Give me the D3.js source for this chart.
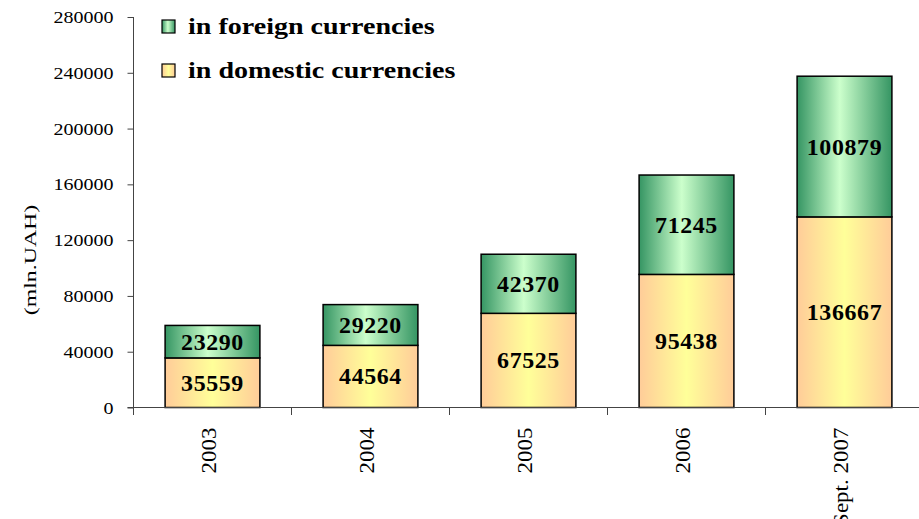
<!DOCTYPE html>
<html>
<head>
<meta charset="utf-8">
<script src="https://cdn.jsdelivr.net/npm/d3@7"></script>
<style>
  body { margin: 0; background: #fff; }
  svg text { font-family: "Liberation Serif", "Times New Roman", serif; fill: #000; }
</style>
</head>
<body>
<div id="chart"></div>
<script>
// Dades del gràfic
const categories = ["2003", "2004", "2005", "2006", "Sept. 2007"];
const domestic = [35559, 44564, 67525, 95438, 136667];
const foreign = [23290, 29220, 42370, 71245, 100879];
const yTicks = [0, 40000, 80000, 120000, 160000, 200000, 240000, 280000];
const seriesNames = ["in foreign currencies", "in domestic currencies"];

const width = 919, height = 519;
const x0 = 133.5, yBottom = 407.5, yTop = 17;

const svg = d3.select("#chart").append("svg")
    .attr("width", width)
    .attr("height", height);

// Gradients (clar al mig, fosc als costats)
const defs = svg.append("defs");
function gradient(id, edge, mid, midPos) {
    const g = defs.append("linearGradient").attr("id", id)
        .attr("x1", "0%").attr("y1", "0%").attr("x2", "100%").attr("y2", "0%");
    g.append("stop").attr("offset", "0%").attr("stop-color", edge);
    g.append("stop").attr("offset", midPos).attr("stop-color", mid);
    g.append("stop").attr("offset", "100%").attr("stop-color", edge);
}
gradient("grad-foreign", "#359563", "#ccffcc", "45%");
gradient("grad-domestic", "#ffcc99", "#ffff99", "50%");

// Escales
const x = d3.scaleBand()
    .domain(categories)
    .range([x0, x0 + 5 * 158])
    .paddingInner(0.4)
    .paddingOuter(0.2);

const y = d3.scaleLinear()
    .domain([0, 280000])
    .range([yBottom, yTop]);

// Dades apilades
const rows = categories.map((c, i) => ({ cat: c, domestic: domestic[i], foreign: foreign[i] }));
const stack = d3.stack().keys(["domestic", "foreign"])(rows);
const fills = { domestic: "url(#grad-domestic)", foreign: "url(#grad-foreign)" };

// Barres
const layers = svg.selectAll("g.layer")
    .data(stack)
    .enter().append("g")
    .attr("class", "layer");

layers.selectAll("rect")
    .data(d => d.map(p => ({ key: d.key, p })))
    .enter().append("rect")
    .attr("x", d => x(d.p.data.cat))
    .attr("y", d => y(d.p[1]))
    .attr("width", x.bandwidth())
    .attr("height", d => y(d.p[0]) - y(d.p[1]))
    .style("fill", d => fills[d.key])
    .style("stroke", "#000")
    .style("stroke-width", 1.5);

// Etiquetes de valor
layers.selectAll("text")
    .data(d => d.map(p => ({ key: d.key, p })))
    .enter().append("text")
    .attr("transform", d => `translate(${x(d.p.data.cat) + x.bandwidth() / 2},${(y(d.p[0]) + y(d.p[1])) / 2}) scale(1.04,1)`)
    .attr("dy", "0.35em")
    .style("text-anchor", "middle")
    .style("font-size", "23px")
    .style("font-weight", "bold")
    .style("letter-spacing", "0.6px")
    .text(d => d.p.data[d.key]);

// Eix Y
const yAxis = svg.append("g")
    .attr("transform", `translate(${x0},0)`)
    .call(d3.axisLeft(y).tickValues(yTicks).tickSize(6).tickSizeOuter(0).tickFormat(d => d));
yAxis.select(".domain").attr("d", `M0,${yTop}V${yBottom + 7.5}`);
yAxis.selectAll("line, path").style("stroke", "#444");
yAxis.selectAll("text")
    .attr("x", null)
    .attr("transform", "translate(-20,0) scale(1.25,1)")
    .attr("dy", "0.35em")
    .style("font-size", "16px");

// Eix X
const xAxis = svg.append("g")
    .attr("transform", `translate(0,${yBottom})`);
xAxis.append("line")
    .attr("x1", x0 - 6).attr("x2", width)
    .style("stroke", "#444");
xAxis.selectAll("line.tick")
    .data(d3.range(categories.length + 1))
    .enter().append("line")
    .attr("class", "tick")
    .attr("x1", i => x0 + i * x.step()).attr("x2", i => x0 + i * x.step())
    .attr("y1", 0).attr("y2", 7.5)
    .style("stroke", "#444");
xAxis.selectAll("text")
    .data(categories)
    .enter().append("text")
    .attr("transform", d => `translate(${x(d) + x.bandwidth() / 2},20) rotate(-90) scale(1.15,1)`)
    .attr("dy", "0.15em")
    .style("text-anchor", "end")
    .style("font-size", "20px")
    .text(d => d);

// Títol eix Y
svg.append("text")
    .attr("transform", "translate(30,260) rotate(-90) scale(1.4,1)")
    .attr("dy", "0.35em")
    .style("text-anchor", "middle")
    .style("font-size", "17px")
    .text("(mln.UAH)");

// Llegenda
const legend = svg.append("g");
const legendFills = ["url(#grad-foreign)", "url(#grad-domestic)"];
seriesNames.forEach((name, i) => {
    const ly = 20 + i * 44;
    legend.append("rect")
        .attr("x", 162).attr("y", ly)
        .attr("width", 13).attr("height", 13)
        .style("fill", legendFills[i])
        .style("stroke", "#000")
        .style("stroke-width", 1.2);
    legend.append("text")
        .attr("transform", `translate(188,${ly + 14}) scale(1.22,1)`)
        .style("font-size", "23px")
        .style("font-weight", "bold")
        .text(name);
});
</script>
</body>
</html>
